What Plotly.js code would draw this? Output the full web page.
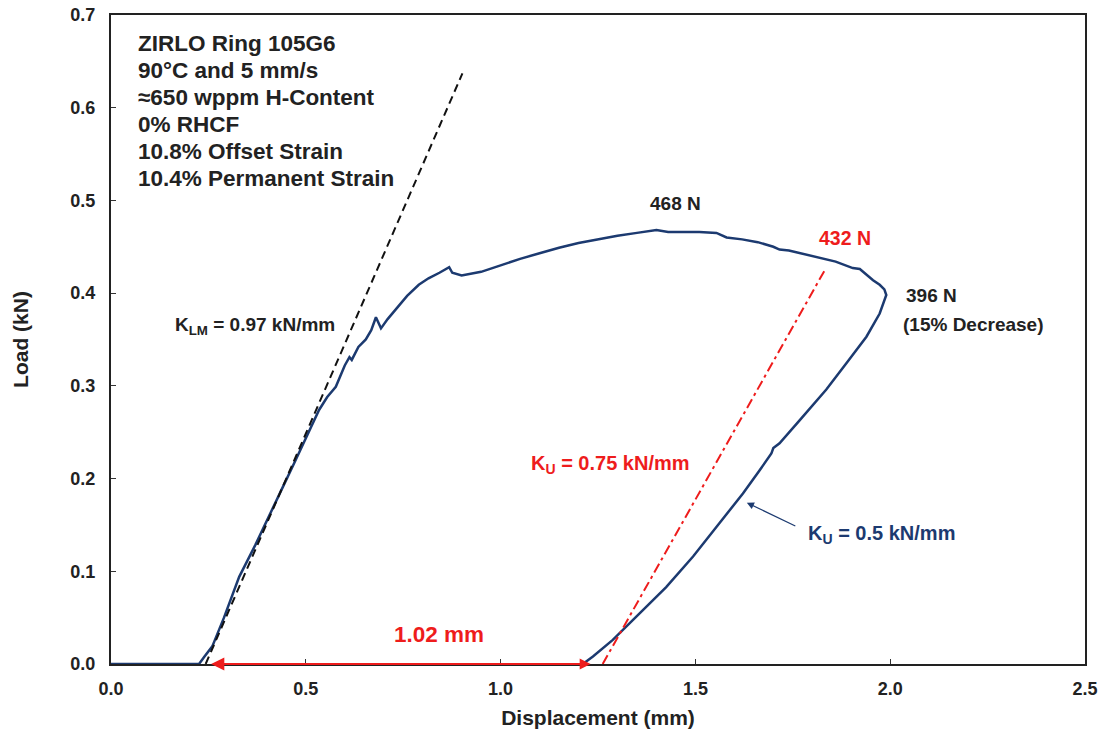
<!DOCTYPE html>
<html>
<head>
<meta charset="utf-8">
<script src="https://cdn.plot.ly/plotly-3.0.1.min.js"></script>
<style>html,body{margin:0;padding:0;background:#fff;}#chart{width:1104px;height:746px;}</style>
</head>
<body>
<div id="chart"></div>
<script>
// Measured load-displacement curve (loading, then unloading)
const displacement = [0, 0.10, 0.226, 0.24, 0.26, 0.29, 0.329, 0.37, 0.406, 0.44, 0.474, 0.505, 0.534, 0.555, 0.577, 0.60, 0.612, 0.618, 0.635, 0.654, 0.668, 0.680, 0.693, 0.71, 0.731, 0.76, 0.79, 0.815, 0.843, 0.868, 0.876, 0.90, 0.95, 1.00, 1.05, 1.10, 1.15, 1.20, 1.25, 1.30, 1.35, 1.40, 1.43, 1.47, 1.51, 1.554, 1.58, 1.62, 1.66, 1.70, 1.716, 1.74, 1.78, 1.82, 1.86, 1.904, 1.922, 1.956, 1.973, 1.985, 1.990,
  1.973, 1.939, 1.887, 1.836, 1.768, 1.716, 1.70, 1.695, 1.665, 1.622, 1.562, 1.494, 1.425, 1.357, 1.288, 1.237, 1.211];
const load = [0, 0, 0, 0.008, 0.019, 0.05, 0.094, 0.128, 0.159, 0.19, 0.22, 0.248, 0.274, 0.288, 0.299, 0.322, 0.331, 0.328, 0.342, 0.350, 0.360, 0.374, 0.362, 0.372, 0.382, 0.397, 0.409, 0.416, 0.422, 0.428, 0.422, 0.419, 0.423, 0.430, 0.437, 0.443, 0.449, 0.454, 0.458, 0.462, 0.465, 0.468, 0.466, 0.466, 0.466, 0.465, 0.460, 0.458, 0.455, 0.450, 0.447, 0.446, 0.442, 0.438, 0.434, 0.427, 0.426, 0.414, 0.409, 0.404, 0.398,
  0.378, 0.353, 0.324, 0.296, 0.263, 0.238, 0.233, 0.227, 0.209, 0.184, 0.152, 0.116, 0.083, 0.055, 0.026, 0.008, 0];

// Loading modulus fit line (K_LM = 0.97 kN/mm)
const klmX = [0.243, 0.902];
const klmY = [0, 0.637];
// Unloading fit line (K_U = 0.75 kN/mm)
const kuX = [1.262, 1.835];
const kuY = [0, 0.427];

// Specimen / test condition text lines
const infoLines = ['ZIRLO Ring 105G6', '90°C and 5 mm/s', '≈650 wppm H-Content', '0% RHCF', '10.8% Offset Strain', '10.4% Permanent Strain'];

// Axis ticks
const xTicks = [0, 0.5, 1.0, 1.5, 2.0, 2.5];
const xTickText = ['0.0', '0.5', '1.0', '1.5', '2.0', '2.5'];
const yTicks = [0, 0.1, 0.2, 0.3, 0.4, 0.5, 0.6, 0.7];
const yTickText = ['0.0', '0.1', '0.2', '0.3', '0.4', '0.5', '0.6', '0.7'];

const FONT = 'Liberation Sans, Arial, sans-serif';
const NAVY = '#1c3a70';
const RED = '#ee1c1c';

const traces = [
  {x: displacement, y: load, mode: 'lines', line: {color: NAVY, width: 2.5}, hoverinfo: 'skip'},
  {x: klmX, y: klmY, mode: 'lines', line: {color: '#111', width: 2, dash: '8px,5px'}, hoverinfo: 'skip'},
  {x: kuX, y: kuY, mode: 'lines', line: {color: RED, width: 2, dash: '10px,4px,3px,4px'}, hoverinfo: 'skip'}
];

const bold = (s) => '<b>' + s + '</b>';

// info block: one annotation per line, fixed 26.8px line pitch starting at 44px from top
const plotH = 746 - 15 - 82;
const infoAnns = infoLines.map((t, i) => ({
  xref: 'paper', yref: 'paper', x: 0.026, y: 1 - (44 - 15 + i * 26.8) / plotH,
  xanchor: 'left', yanchor: 'middle', align: 'left', showarrow: false,
  text: bold(t), font: {family: FONT, size: 22.5, color: '#222'}
}));

const layout = {
  width: 1104, height: 746,
  margin: {l: 111, r: 19, t: 15, b: 82},
  paper_bgcolor: '#fff', plot_bgcolor: '#fff',
  showlegend: false,
  font: {family: FONT, color: '#222'},
  xaxis: {
    range: [0, 2.5], tickvals: xTicks, ticktext: xTickText,
    showgrid: false, zeroline: false,
    showline: true, mirror: true, linecolor: '#222', linewidth: 2,
    ticks: 'inside', ticklen: 5, tickcolor: '#333', tickwidth: 1,
    ticklabelstandoff: 7,
    tickfont: {family: FONT, size: 18, color: '#222', weight: 'bold'},
    title: {text: bold('Displacement (mm)'), font: {family: FONT, size: 21, color: '#222'}, standoff: 13}
  },
  yaxis: {
    range: [0, 0.7], tickvals: yTicks, ticktext: yTickText,
    showgrid: false, zeroline: false,
    showline: true, mirror: true, linecolor: '#222', linewidth: 2,
    ticks: 'inside', ticklen: 5, tickcolor: '#333', tickwidth: 1,
    ticklabelstandoff: 10,
    tickfont: {family: FONT, size: 18, color: '#222', weight: 'bold'},
    title: {text: bold('Load (kN)'), font: {family: FONT, size: 21, color: '#222'}, standoff: 36}
  },
  annotations: infoAnns.concat([
    {x: 0.16, y: 0.365, xanchor: 'left', yanchor: 'middle', showarrow: false,
     text: bold('K<sub>LM</sub> = 0.97 kN/mm'), font: {family: FONT, size: 19, color: '#222'}},
    {x: 1.45, y: 0.497, xanchor: 'center', yanchor: 'middle', showarrow: false,
     text: bold('468 N'), font: {family: FONT, size: 19, color: '#222'}},
    {x: 1.883, y: 0.4595, xanchor: 'center', yanchor: 'middle', showarrow: false,
     text: bold('432 N'), font: {family: FONT, size: 19.5, color: RED}},
    {x: 2.035, y: 0.398, xanchor: 'left', yanchor: 'middle', showarrow: false,
     text: bold('396 N'), font: {family: FONT, size: 19, color: '#222'}},
    {x: 2.028, y: 0.366, xanchor: 'left', yanchor: 'middle', showarrow: false,
     text: bold('(15% Decrease)'), font: {family: FONT, size: 19, color: '#222'}},
    {x: 1.074, y: 0.215, xanchor: 'left', yanchor: 'middle', showarrow: false,
     text: bold('K<sub>U</sub> = 0.75 kN/mm'), font: {family: FONT, size: 20, color: RED}},
    {x: 1.783, y: 0.140, xanchor: 'left', yanchor: 'middle', showarrow: false,
     text: bold('K<sub>U</sub> = 0.5 kN/mm'), font: {family: FONT, size: 20, color: NAVY}},
    {x: 0.843, y: 0.032, xanchor: 'center', yanchor: 'middle', showarrow: false,
     text: bold('1.02 mm'), font: {family: FONT, size: 22.5, color: RED}},
    // pointer to unloading curve
    {x: 1.632, y: 0.174, ax: 50, ay: 24, axref: 'pixel', ayref: 'pixel', showarrow: true,
     arrowhead: 2, arrowsize: 1.2, arrowwidth: 1.2, arrowcolor: NAVY, text: ''},
    // permanent displacement arrow
    {x: 0.257, y: 0, ax: 1.235, ay: 0, axref: 'x', ayref: 'y', showarrow: true,
     arrowhead: 2, startarrowhead: 2, arrowside: 'end+start', arrowsize: 1.2, startarrowsize: 1.0, arrowwidth: 2.2,
     arrowcolor: RED, text: ''}
  ])
};

Plotly.newPlot('chart', traces, layout, {displayModeBar: false, staticPlot: true});
</script>
</body>
</html>
